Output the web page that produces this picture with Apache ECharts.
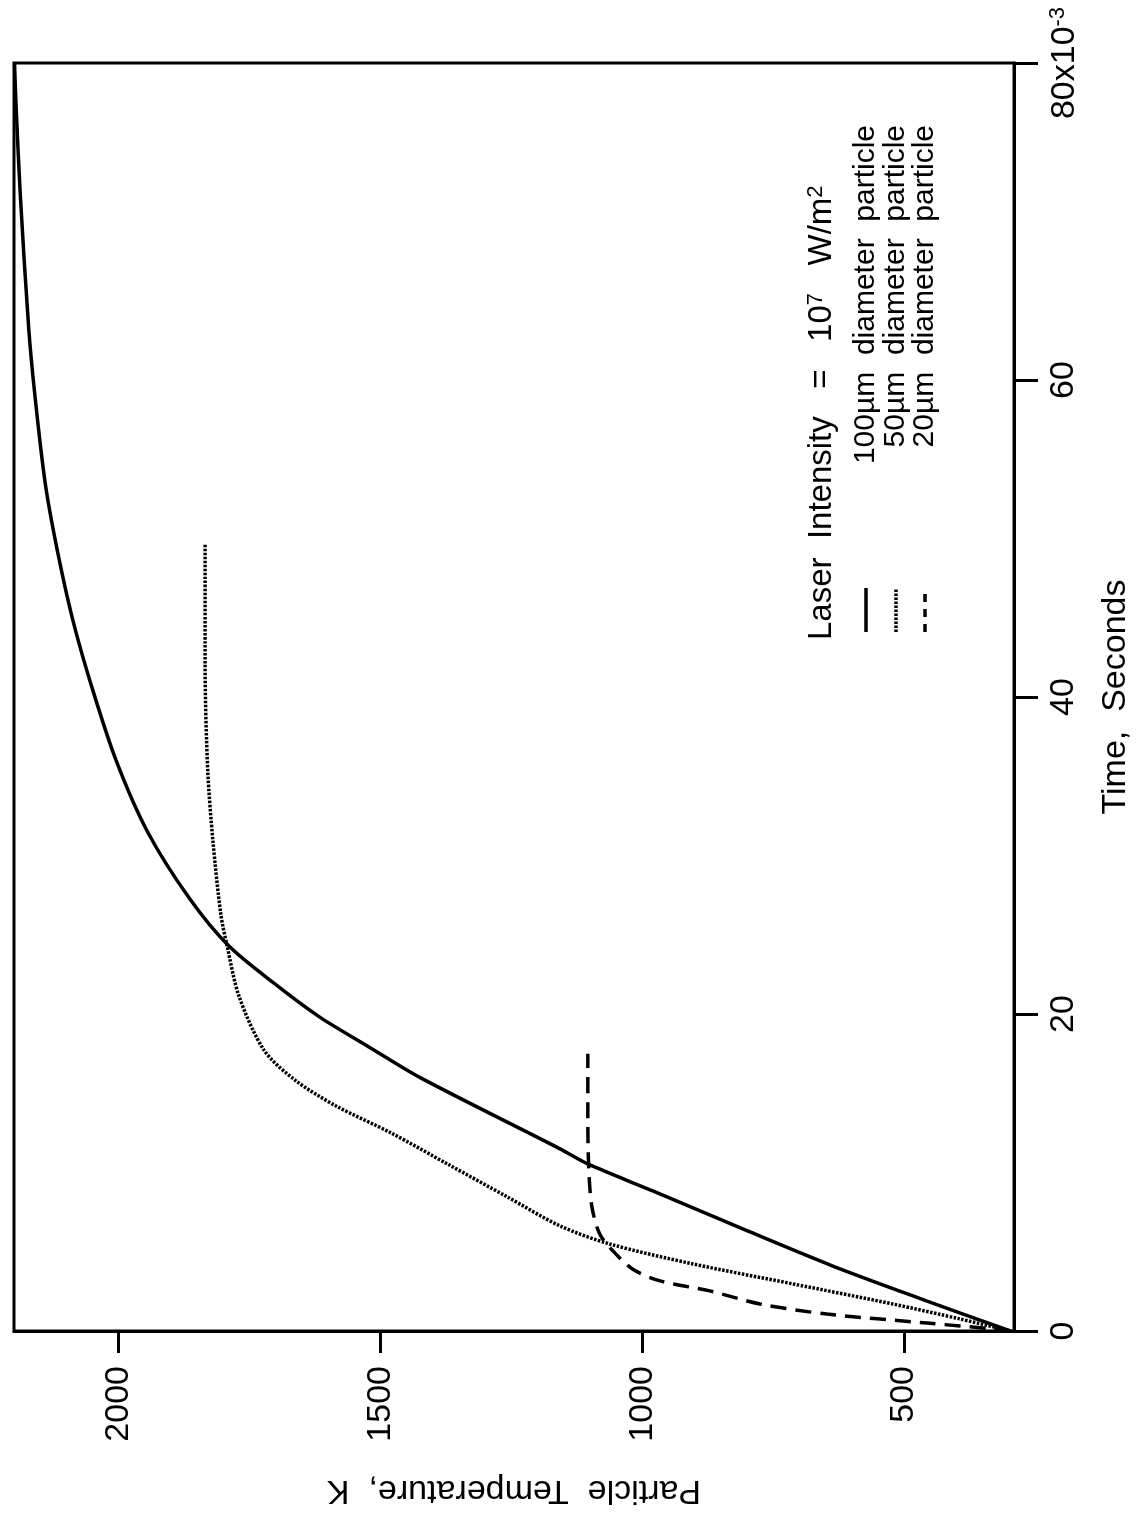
<!DOCTYPE html>
<html><head><meta charset="utf-8">
<script src="https://cdn.jsdelivr.net/npm/echarts@6/dist/echarts.min.js"></script>
<style>html,body{margin:0;padding:0;background:#fff}#c{width:1141px;height:1522px}</style>
</head><body><div id="c"></div>
<script>
// Time in ms (axis shows x10^-3 s), temperature in K
const timeTicks = [0, 20, 40, 60, 80];
const tempTicks = [500, 1000, 1500, 2000];

const time100 = [0, 1.89, 4.10, 6.44, 8.84, 10.54, 11.49, 16.0, 18.0, 19.8, 21.8, 24.3, 27.3, 31.5, 36.0, 40.7, 44.9, 49.2, 53.4, 59.0, 63.3, 71.7, 77.3, 80.0];
const temp100 = [297, 456, 636, 808, 980, 1104, 1157, 1425, 1526, 1616, 1698, 1790, 1865, 1945, 2005, 2052, 2088, 2117, 2140, 2160, 2172, 2188, 2196, 2199];

const time50 = [0, 0.76, 1.70, 2.97, 4.23, 5.49, 6.63, 8.5, 10.5, 12.5, 14.2, 15.8, 17.7, 21.1, 24.3, 26.3, 30.9, 35.4, 42.1, 49.6];
const temp50 = [297, 393, 521, 712, 903, 1062, 1157, 1260, 1370, 1480, 1585, 1662, 1722, 1770, 1793, 1805, 1820, 1830, 1835, 1835];

const time20 = [0, 0.13, 0.5, 1.07, 1.70, 2.53, 3.16, 3.9, 5.05, 6.1, 7.8, 10.1, 13.3, 17.5];
const temp20 = [297, 330, 456, 647, 775, 871, 966, 1018, 1056, 1081, 1096, 1102, 1104, 1104];

const seriesNames = ['100\u00b5m  diameter  particle', '50\u00b5m  diameter  particle', '20\u00b5m  diameter  particle'];
const legendTitle = 'Laser  Intensity   =   10{sup|7}   W/m{sup|2}';
const xName = 'Particle  Temperature,  K';
const yName = 'Time,  Seconds';

const FONT = '"Liberation Sans", Arial, Helvetica, sans-serif';
const pairs = (temps, times) => temps.map((T, i) => [T, times[i]]);

const chart = echarts.init(document.getElementById('c'), null, {renderer: 'canvas'});

const lineStyles = [
  {color: '#000', width: 3.5, type: 'solid'},
  {color: '#000', width: 3.5, type: [2.5, 1.5]},
  {color: '#000', width: 3.5, type: [16, 9]}
];
const datas = [pairs(temp100, time100), pairs(temp50, time50), pairs(temp20, time20)];

const option = {
  animation: false,
  backgroundColor: '#fff',
  grid: {left: 14, right: 127, top: 63, bottom: 191, show: true, borderColor: '#000', borderWidth: 3, backgroundColor: 'transparent'},
  xAxis: {
    type: 'value', min: 290, max: 2200, inverse: true, position: 'bottom',
    name: xName, nameLocation: 'middle', nameRotate: 180, nameGap: 142,
    nameTextStyle: {fontFamily: FONT, fontSize: 34, color: '#000'},
    axisLine: {show: true, lineStyle: {color: '#000', width: 3}},
    axisTick: {show: true, inside: false, length: 22, lineStyle: {color: '#000', width: 3}, customValues: tempTicks},
    axisLabel: {rotate: 90, margin: 35, fontFamily: FONT, fontSize: 34, color: '#000', customValues: tempTicks,
      formatter: v => String(v)},
    splitLine: {show: false}
  },
  yAxis: {
    type: 'value', min: timeTicks[0], max: timeTicks[timeTicks.length - 1], interval: 20, position: 'right',
    name: yName, nameLocation: 'middle', nameRotate: 90, nameGap: 85,
    nameTextStyle: {fontFamily: FONT, fontSize: 34, color: '#000'},
    axisLine: {show: true, lineStyle: {color: '#000', width: 3}},
    axisTick: {show: true, inside: false, length: 24, lineStyle: {color: '#000', width: 3}},
    axisLabel: {
      rotate: 90, margin: 33, fontFamily: FONT, fontSize: 34, color: '#000',
      formatter: v => v === 80 ? '80x10{sup|-3}' : String(v),
      rich: {sup: {fontFamily: FONT, fontSize: 22, color: '#000', verticalAlign: 'top', padding: [0, 0, 14, 0]}}
    },
    splitLine: {show: false}
  },
  series: datas.map((d, i) => ({
    type: 'line', name: seriesNames[i], data: d, showSymbol: false, symbol: 'none',
    smooth: 0.3, lineStyle: lineStyles[i], silent: true
  })),
  graphic: [{
    type: 'group', x: 800, y: 640, rotation: Math.PI / 2,
    children: [
      {type: 'text', x: 0, y: 22, style: {text: legendTitle, fontFamily: FONT, fontSize: 33, fill: '#000', align: 'left', verticalAlign: 'middle',
        rich: {sup: {fontFamily: FONT, fontSize: 22, fill: '#000', verticalAlign: 'top', padding: [0, 0, 12, 0]}}}},
      {type: 'text', x: 515, y: 66, style: {text: seriesNames[0], fontFamily: FONT, fontSize: 30, fill: '#000', align: 'right', verticalAlign: 'middle'}},
      {type: 'text', x: 515, y: 96, style: {text: seriesNames[1], fontFamily: FONT, fontSize: 30, fill: '#000', align: 'right', verticalAlign: 'middle'}},
      {type: 'text', x: 515, y: 125, style: {text: seriesNames[2], fontFamily: FONT, fontSize: 30, fill: '#000', align: 'right', verticalAlign: 'middle'}},
      {type: 'line', shape: {x1: 8, y1: 66, x2: 52, y2: 66}, style: {stroke: '#000', lineWidth: 3.5}},
      {type: 'line', shape: {x1: 8, y1: 96, x2: 52, y2: 96}, style: {stroke: '#000', lineWidth: 3.5, lineDash: [2.5, 1.5]}},
      {type: 'line', shape: {x1: 8, y1: 125, x2: 52, y2: 125}, style: {stroke: '#000', lineWidth: 3.5, lineDash: [8, 7]}}
    ]
  }]
};
chart.setOption(option);
</script>
</body></html>
